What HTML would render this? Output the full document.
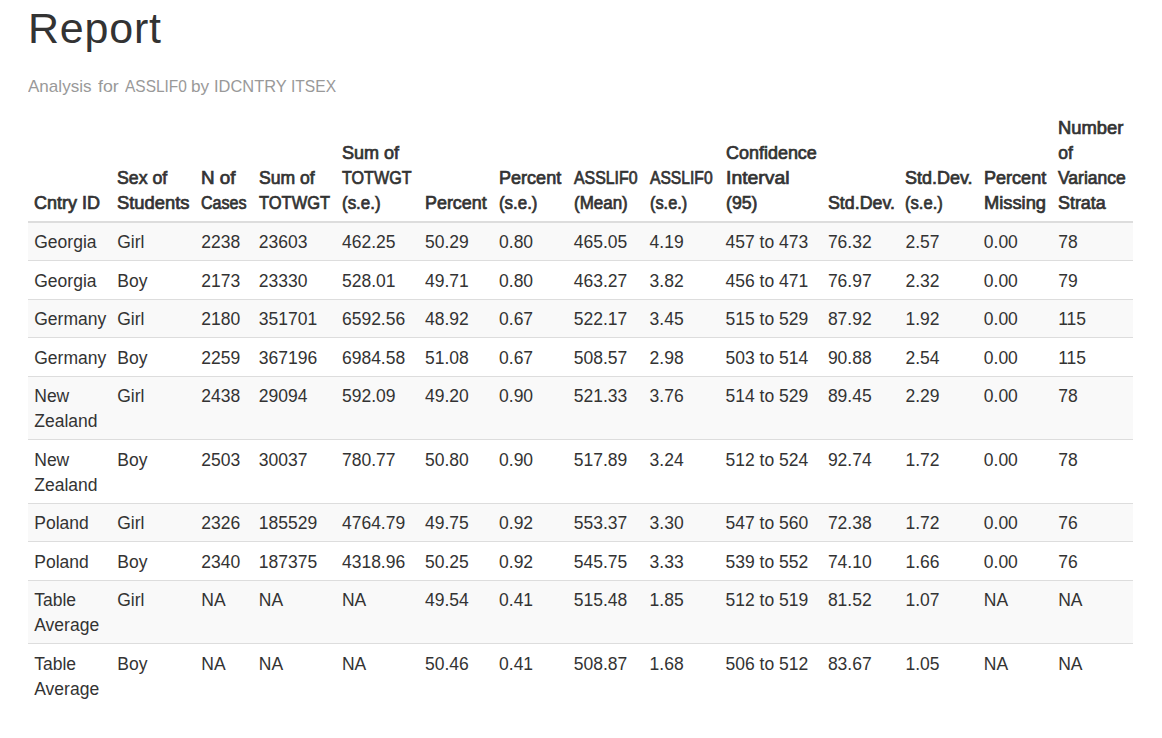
<!DOCTYPE html><html><head><meta charset="utf-8"><title>Report</title><style>

*{box-sizing:border-box;}
html,body{margin:0;padding:0;background:#fff;}
body{width:1162px;height:738px;overflow:hidden;position:relative;font-family:"Liberation Sans",sans-serif;color:#333;}
h1{position:absolute;left:28px;top:2.9px;margin:0;font-size:43px;line-height:50px;font-weight:normal;color:#333;white-space:nowrap;letter-spacing:0.8px;}
.sub{position:absolute;left:0;top:74px;width:1162px;height:25px;margin:0;font-size:17px;line-height:25px;color:#999;white-space:nowrap;}
.sub span{position:absolute;top:0;transform-origin:0 0;}
table{position:absolute;left:28px;top:108px;border-collapse:separate;border-spacing:0;table-layout:fixed;width:1105px;font-size:17.5px;line-height:25px;}
th,td{padding:7.5px 0 5px 6.25px;text-align:left;vertical-align:bottom;white-space:nowrap;overflow:visible;}
th{font-weight:normal;-webkit-text-stroke:0.7px #333;padding-top:8px;padding-bottom:4.5px;border-bottom:2px solid #ddd;}
.l{display:inline-block;transform-origin:0 50%;}
td{vertical-align:top;border-top:1px solid #ddd;}
tbody tr:first-child td{border-top:0;}
tbody tr:nth-child(odd) td{background:#f9f9f9;}

</style></head><body>
<h1>Report</h1>
<div class="sub"><span style="left:28.40px;transform:scaleX(1.003)">Analysis</span> <span style="left:98.00px;transform:scaleX(1.045)">for</span> <span style="left:125.19px;transform:scaleX(0.910)">ASSLIF0</span> <span style="left:191.18px;transform:scaleX(1.012)">by</span> <span style="left:214.25px;transform:scaleX(0.966)">IDCNTRY</span> <span style="left:290.93px;transform:scaleX(0.917)">ITSEX</span></div>
<table><colgroup><col style="width:83px"><col style="width:84px"><col style="width:57.5px"><col style="width:83.2px"><col style="width:83.1px"><col style="width:74.0px"><col style="width:74.7px"><col style="width:75.9px"><col style="width:75.9px"><col style="width:102.4px"><col style="width:77.6px"><col style="width:78.3px"><col style="width:74.4px"><col style="width:81px"></colgroup>
<thead><tr><th><span class="l" style="transform:scaleX(1.029)">Cntry ID</span></th><th><span class="l" style="transform:scaleX(1.012)">Sex of</span><br><span class="l" style="transform:scaleX(1.049)">Students</span></th><th><span class="l" style="transform:scaleX(1.074)">N of</span><br><span class="l" style="transform:scaleX(0.919)">Cases</span></th><th><span class="l" style="transform:scaleX(1.005)">Sum of</span><br><span class="l" style="transform:scaleX(0.941)">TOTWGT</span></th><th><span class="l" style="transform:scaleX(1.03)">Sum of</span><br><span class="l" style="transform:scaleX(0.921)">TOTWGT</span><br><span class="l" style="transform:scaleX(0.968)">(s.e.)</span></th><th><span class="l" style="transform:scaleX(1.022)">Percent</span></th><th><span class="l" style="transform:scaleX(1.031)">Percent</span><br><span class="l" style="transform:scaleX(0.965)">(s.e.)</span></th><th><span class="l" style="transform:scaleX(0.907)">ASSLIF0</span><br><span class="l" style="transform:scaleX(0.97)">(Mean)</span></th><th><span class="l" style="transform:scaleX(0.894)">ASSLIF0</span><br><span class="l" style="transform:scaleX(0.934)">(s.e.)</span></th><th><span class="l" style="transform:scaleX(1.026)">Confidence</span><br><span class="l" style="transform:scaleX(1.106)">Interval</span><br><span class="l" style="transform:scaleX(1.01)">(95)</span></th><th><span class="l" style="transform:scaleX(1.017)">Std.Dev.</span></th><th><span class="l" style="transform:scaleX(1.027)">Std.Dev.</span><br><span class="l" style="transform:scaleX(0.947)">(s.e.)</span></th><th><span class="l" style="transform:scaleX(1.031)">Percent</span><br><span class="l" style="transform:scaleX(1.046)">Missing</span></th><th><span class="l" style="transform:scaleX(1.051)">Number</span><br><span class="l">of</span><br><span class="l" style="transform:scaleX(0.999)">Variance</span><br><span class="l" style="transform:scaleX(1.022)">Strata</span></th></tr></thead><tbody>
<tr><td>Georgia</td><td>Girl</td><td>2238</td><td>23603</td><td>462.25</td><td>50.29</td><td>0.80</td><td>465.05</td><td>4.19</td><td>457 to 473</td><td>76.32</td><td>2.57</td><td>0.00</td><td>78</td></tr>
<tr><td>Georgia</td><td>Boy</td><td>2173</td><td>23330</td><td>528.01</td><td>49.71</td><td>0.80</td><td>463.27</td><td>3.82</td><td>456 to 471</td><td>76.97</td><td>2.32</td><td>0.00</td><td>79</td></tr>
<tr><td>Germany</td><td>Girl</td><td>2180</td><td>351701</td><td>6592.56</td><td>48.92</td><td>0.67</td><td>522.17</td><td>3.45</td><td>515 to 529</td><td>87.92</td><td>1.92</td><td>0.00</td><td>115</td></tr>
<tr><td>Germany</td><td>Boy</td><td>2259</td><td>367196</td><td>6984.58</td><td>51.08</td><td>0.67</td><td>508.57</td><td>2.98</td><td>503 to 514</td><td>90.88</td><td>2.54</td><td>0.00</td><td>115</td></tr>
<tr><td>New<br>Zealand</td><td>Girl</td><td>2438</td><td>29094</td><td>592.09</td><td>49.20</td><td>0.90</td><td>521.33</td><td>3.76</td><td>514 to 529</td><td>89.45</td><td>2.29</td><td>0.00</td><td>78</td></tr>
<tr><td>New<br>Zealand</td><td>Boy</td><td>2503</td><td>30037</td><td>780.77</td><td>50.80</td><td>0.90</td><td>517.89</td><td>3.24</td><td>512 to 524</td><td>92.74</td><td>1.72</td><td>0.00</td><td>78</td></tr>
<tr><td>Poland</td><td>Girl</td><td>2326</td><td>185529</td><td>4764.79</td><td>49.75</td><td>0.92</td><td>553.37</td><td>3.30</td><td>547 to 560</td><td>72.38</td><td>1.72</td><td>0.00</td><td>76</td></tr>
<tr><td>Poland</td><td>Boy</td><td>2340</td><td>187375</td><td>4318.96</td><td>50.25</td><td>0.92</td><td>545.75</td><td>3.33</td><td>539 to 552</td><td>74.10</td><td>1.66</td><td>0.00</td><td>76</td></tr>
<tr><td>Table<br>Average</td><td>Girl</td><td>NA</td><td>NA</td><td>NA</td><td>49.54</td><td>0.41</td><td>515.48</td><td>1.85</td><td>512 to 519</td><td>81.52</td><td>1.07</td><td>NA</td><td>NA</td></tr>
<tr><td>Table<br>Average</td><td>Boy</td><td>NA</td><td>NA</td><td>NA</td><td>50.46</td><td>0.41</td><td>508.87</td><td>1.68</td><td>506 to 512</td><td>83.67</td><td>1.05</td><td>NA</td><td>NA</td></tr>
</tbody></table></body></html>
